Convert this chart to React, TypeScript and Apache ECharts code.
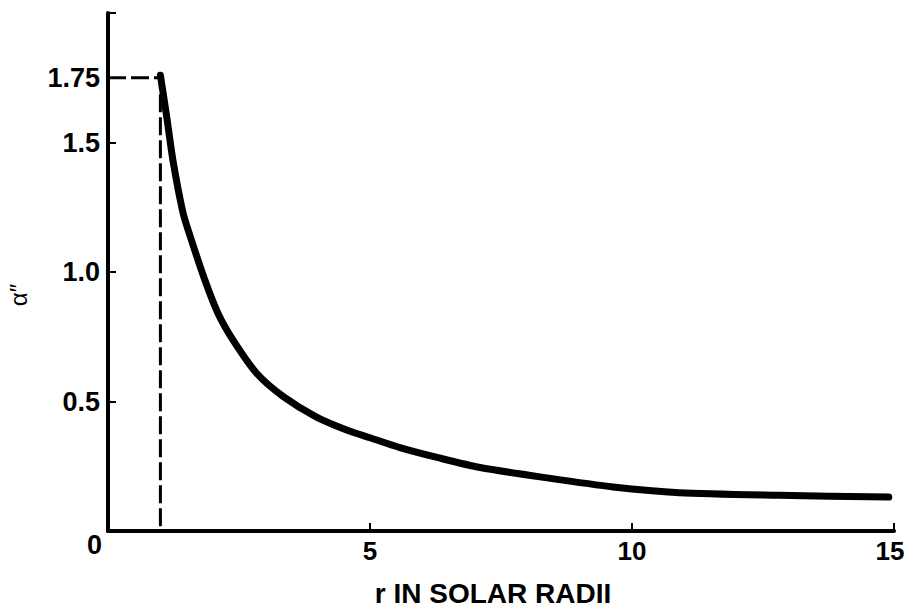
import React, { useEffect, useRef } from "react";
import * as echarts from "echarts";

const rValues = [1.0, 1.12, 1.24, 1.43, 1.565, 1.85, 2.1, 2.39, 2.84, 3.34, 3.98, 4.62, 5.0, 5.57, 6.3, 7.1, 8.38, 9.64, 10.9, 12.8, 14.9];
const alphaValues = [1.76, 1.6, 1.43, 1.23, 1.14, 0.968, 0.84, 0.736, 0.608, 0.52, 0.44, 0.385, 0.36, 0.322, 0.283, 0.245, 0.205, 0.17, 0.148, 0.138, 0.131];
const limbPoint = [1, 1.75];
const xTickValues = [5, 10, 15];
const yLabelValues = [0.5, 1.0, 1.5, 1.75];
const yTickValues = [0.5, 1.0, 1.5, 2.0];
const xTitle = "r IN SOLAR RADII";
const yTitle = "α\u2033";
const originLabel = "0";

const FONT = "'Liberation Sans', Arial, sans-serif";

export default function App() {
  const ref = useRef<HTMLDivElement>(null);
  useEffect(() => {
    if (!ref.current) return;
    const chart = echarts.init(ref.current, null, { renderer: "svg" });
    const curve = rValues.map((r, i) => [r, alphaValues[i]]);
    const dashed = [[0, limbPoint[1]], [limbPoint[0], limbPoint[1]], [limbPoint[0], 0]];
    const labelFont = { color: "#000", fontFamily: FONT, fontWeight: "bold", fontSize: 26 };
    chart.setOption({
      animation: false,
      backgroundColor: "#ffffff",
      grid: { left: 108, right: 12, top: 13, bottom: 77, containLabel: false, outerBoundsMode: "none" },
      xAxis: {
        type: "value",
        min: 0,
        max: 15,
        interval: 5,
        axisLine: { show: true, lineStyle: { color: "#000", width: 4 } },
        axisTick: { show: true, inside: true, length: 8, customValues: xTickValues, lineStyle: { color: "#000", width: 2 } },
        axisLabel: {
          customValues: xTickValues,
          margin: 7,
          ...labelFont,
          formatter: (v: number) => (v === 15 ? "{e|15}" : String(v)),
          rich: { e: { ...labelFont, padding: [0, 8, 0, 0] } },
        },
        splitLine: { show: false },
        name: xTitle,
        nameLocation: "middle",
        nameGap: 48,
        nameTextStyle: { color: "#000", fontFamily: FONT, fontWeight: "bold", fontSize: 28, padding: [0, 16, 0, 0] },
      },
      yAxis: {
        type: "value",
        min: 0,
        max: 2,
        interval: 0.25,
        axisLine: { show: true, lineStyle: { color: "#000", width: 4 } },
        axisTick: { show: true, inside: true, length: 8, customValues: yTickValues, lineStyle: { color: "#000", width: 2 } },
        axisLabel: {
          customValues: yLabelValues,
          margin: 8,
          ...labelFont,
          fontSize: 27,
          formatter: (v: number) => (v === 1 ? "1.0" : String(v)),
        },
        splitLine: { show: false },
        name: yTitle,
        nameLocation: "middle",
        nameRotate: 90,
        nameGap: 78,
        nameTextStyle: { color: "#000", fontFamily: FONT, fontSize: 24, padding: [0, 46, 0, 0] },
      },
      graphic: [
        {
          type: "text",
          left: 87,
          top: 531,
          style: { text: originLabel, fill: "#000", font: `bold 27px ${FONT}` },
        },
      ],
      series: [
        {
          type: "line",
          data: dashed,
          symbol: "none",
          silent: true,
          lineStyle: { color: "#000", width: 3, type: [18, 5] },
          z: 2,
        },
        {
          type: "line",
          data: curve,
          smooth: 0.25,
          symbol: "none",
          silent: true,
          lineStyle: { color: "#000", width: 7, cap: "round", join: "round" },
          z: 3,
        },
      ],
    });
    return () => chart.dispose();
  }, []);
  return (
    <div
      ref={ref}
      style={{ position: "absolute", left: 0, top: 0, width: 906, height: 608, background: "#fff" }}
    />
  );
}
